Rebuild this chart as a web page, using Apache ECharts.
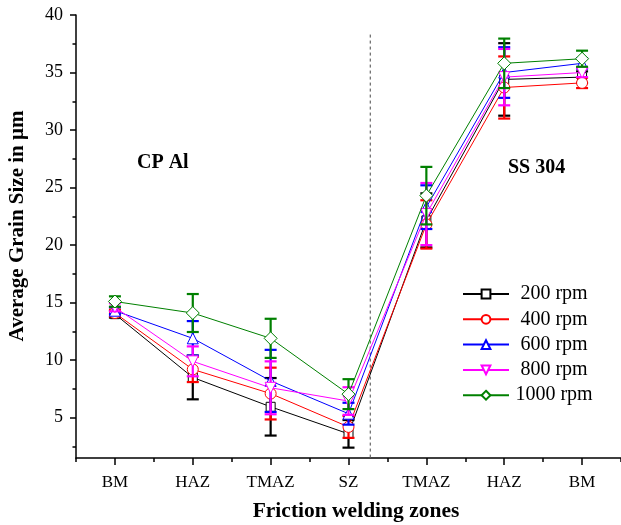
<!DOCTYPE html>
<html>
<head>
<meta charset="utf-8">
<script src="https://cdn.jsdelivr.net/npm/echarts@6/dist/echarts.min.js"></script>
<style>
  html, body { margin: 0; padding: 0; background: #fff; }
  #chart { width: 621px; height: 525px; }
</style>
</head>
<body>
<div id="chart"></div>
<script>
// Welding zones across the joint: CP Al side, stir zone, SS 304 side
const zones = ['BM', 'HAZ', 'TMAZ', 'SZ', 'TMAZ', 'HAZ', 'BM'];

// Average grain size (µm) and standard deviation per rotational speed
const rpm200 = [14.0, 8.5, 5.95, 3.6, 22.15, 34.4, 34.6];
const err200 = [0.3, 1.9, 2.5, 1.2, 2.35, 3.15, 0.5];
const rpm400 = [14.1, 9.2, 7.1, 4.2, 21.8, 33.7, 34.1];
const err400 = [0.3, 1.1, 2.25, 0.95, 2.1, 2.7, 0.45];
const rpm600 = [14.3, 11.9, 8.2, 5.35, 23.3, 35.0, 35.8];
const err600 = [0.3, 1.5, 2.7, 0.95, 1.9, 2.2, 0.45];
const rpm800 = [14.6, 9.9, 7.6, 6.45, 22.7, 34.6, 35.0];
const err800 = [0.35, 1.3, 2.3, 1.2, 2.7, 2.45, 0.4];
const rpm1000 = [15.1, 14.1, 11.9, 7.05, 24.3, 35.8, 36.2];
const err1000 = [0.45, 1.65, 1.7, 1.3, 2.5, 2.15, 0.7];

// Y axis ticks
const majorTicks = [5, 10, 15, 20, 25, 30, 35, 40];
const minorTicks = [2.5, 7.5, 12.5, 17.5, 22.5, 27.5, 32.5, 37.5];
const yMin = 1.5, yMax = 40;

// Interface between the two materials (position along the zone axis)
const interfaceX = 3.28;

const FONT = '"Liberation Serif", "Times New Roman", serif';

const seriesDefs = [
  { name: '200 rpm', color: '#000000', symbol: 'rect', values: rpm200, errs: err200 },
  { name: '400 rpm', color: '#ff0000', symbol: 'circle', values: rpm400, errs: err400 },
  { name: '600 rpm', color: '#0000ff', symbol: 'triangle', values: rpm600, errs: err600 },
  { name: '800 rpm', color: '#ff00ff', symbol: 'path://M0,0 L10,0 L5,9 Z', values: rpm800, errs: err800 },
  { name: '1000 rpm', color: '#008000', symbol: 'diamond', values: rpm1000, errs: err1000 }
];

function errorBarRenderer(color) {
  return function (params, api) {
    const x = api.value(0);
    const lo = api.coord([x, api.value(1)]);
    const hi = api.coord([x, api.value(2)]);
    const hw = 6;
    const style = { stroke: color, lineWidth: 2.2, fill: null };
    return {
      type: 'group',
      children: [
        { type: 'line', shape: { x1: lo[0], y1: lo[1], x2: hi[0], y2: hi[1] }, style: style },
        { type: 'line', shape: { x1: lo[0] - hw, y1: lo[1], x2: lo[0] + hw, y2: lo[1] }, style: style },
        { type: 'line', shape: { x1: hi[0] - hw, y1: hi[1], x2: hi[0] + hw, y2: hi[1] }, style: style }
      ]
    };
  };
}

const series = [];
seriesDefs.forEach(function (d, k) {
  series.push({
    type: 'custom',
    name: d.name + ' sd',
    xAxisIndex: 0,
    yAxisIndex: 0,
    renderItem: errorBarRenderer(d.color),
    encode: { x: 0, y: [1, 2] },
    data: d.values.map(function (v, i) { return [i, v - d.errs[i], v + d.errs[i]]; }),
    z: 3 + k,
    silent: true
  });
});
seriesDefs.forEach(function (d, k) {
  series.push({
    type: 'line',
    name: d.name,
    xAxisIndex: 0,
    yAxisIndex: 0,
    data: d.values,
    symbol: d.symbol,
    symbolSize: d.symbol === 'rect' ? 9 : (d.symbol === 'diamond' ? 13 : 11),
    showAllSymbol: true,
    lineStyle: { color: d.color, width: 1 },
    itemStyle: { color: '#ffffff', borderColor: d.color, borderWidth: 1 },
    emphasis: { disabled: true },
    z: 3 + k,
    animation: false
  });
});
// Dashed separator at the material interface
series.push({
  type: 'line',
  name: 'interface',
  xAxisIndex: 2,
  yAxisIndex: 0,
  data: [[interfaceX, 38.3], [interfaceX, yMin]],
  symbol: 'none',
  lineStyle: { color: '#666666', width: 1.2, type: [3, 3] },
  silent: true,
  z: 2
});

const chart = echarts.init(document.getElementById('chart'), null, { renderer: 'canvas' });
chart.setOption({
  animation: false,
  backgroundColor: '#ffffff',
  grid: { left: 76, top: 15, width: 546, height: 443, containLabel: false },
  legend: {
    data: seriesDefs.map(function (d) { return d.name; }),
    orient: 'vertical',
    left: 462,
    top: 284,
    padding: 0,
    itemWidth: 46,
    itemHeight: 11,
    itemGap: 5.3,
    formatter: function (name) { return '{t|' + name + '}'; },
    textStyle: {
      fontFamily: FONT, fontSize: 20, color: '#000',
      rich: { t: { fontFamily: FONT, fontSize: 20, color: '#000', width: 80, align: 'center', lineHeight: 20 } }
    },
    selectedMode: false
  },
  xAxis: [
    {
      type: 'category',
      data: zones,
      boundaryGap: true,
      axisLine: { show: true, onZero: false, lineStyle: { color: '#000', width: 1.5 } },
      axisTick: { show: true, alignWithLabel: true, length: 7, lineStyle: { color: '#000', width: 1.5 } },
      axisLabel: { fontFamily: FONT, fontSize: 17, color: '#000', margin: 16 },
      splitLine: { show: false }
    },
    {
      type: 'category',
      data: zones,
      boundaryGap: true,
      position: 'bottom',
      axisLine: { show: false, onZero: false },
      axisTick: { show: true, alignWithLabel: false, length: 4, lineStyle: { color: '#000', width: 1.5 } },
      axisLabel: { show: false },
      splitLine: { show: false }
    },
    {
      type: 'value',
      min: -0.5,
      max: 6.5,
      show: false
    }
  ],
  yAxis: [
    {
      type: 'value',
      min: yMin,
      max: yMax,
      axisLine: { show: true, onZero: false, lineStyle: { color: '#000', width: 1.5 } },
      axisTick: { show: true, customValues: majorTicks, length: 6, lineStyle: { color: '#000', width: 1.5 } },
      axisLabel: { customValues: majorTicks, fontFamily: FONT, fontSize: 18, color: '#000', margin: 13 },
      splitLine: { show: false }
    },
    {
      type: 'value',
      min: yMin,
      max: yMax,
      position: 'left',
      offset: 0,
      axisLine: { show: false, onZero: false },
      axisTick: { show: true, customValues: minorTicks, length: 3.5, lineStyle: { color: '#000', width: 1.5 } },
      axisLabel: { show: false },
      splitLine: { show: false }
    }
  ],
  graphic: [
    { type: 'text', x: 18, y: 226, rotation: Math.PI / 2,
      style: { text: 'Average Grain Size in μm', font: 'bold 21px ' + FONT, fill: '#000', align: 'center', verticalAlign: 'middle' } },
    { type: 'text', x: 356, y: 511,
      style: { text: 'Friction welding zones', font: 'bold 21.5px ' + FONT, fill: '#000', align: 'center', verticalAlign: 'middle' } },
    { type: 'text', x: 137, y: 163,
      style: { text: 'CP Al', font: 'bold 20px ' + FONT, fill: '#000', align: 'left', verticalAlign: 'middle' } },
    { type: 'text', x: 508, y: 168,
      style: { text: 'SS 304', font: 'bold 20px ' + FONT, fill: '#000', align: 'left', verticalAlign: 'middle' } }
  ],
  series: series
});
</script>
</body>
</html>
